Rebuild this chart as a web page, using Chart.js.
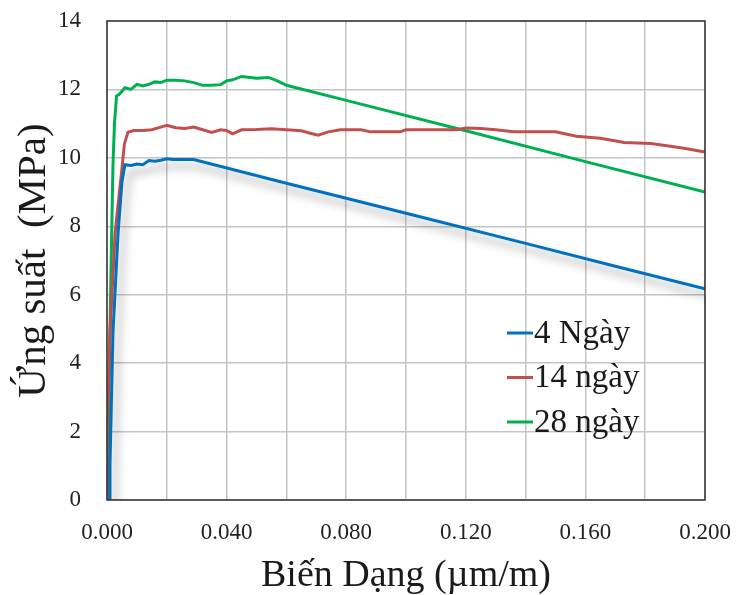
<!DOCTYPE html>
<html lang="vi">
<head>
<meta charset="UTF-8">
<script src="https://cdn.jsdelivr.net/npm/chart.js"></script>
<style>
  html, body { margin: 0; padding: 0; background: #fff; }
  #wrap { width: 737px; height: 595px; }
</style>
</head>
<body>
<div id="wrap"><canvas id="chart" width="737" height="595"></canvas></div>
<script>
// series labels
const seriesNames = ['4 Ngày', '14 ngày', '28 ngày'];
const seriesColors = ['#0070C0', '#C0504D', '#00B050'];

// 4 ngày
const x4 = [0.0008, 0.001, 0.002, 0.0037, 0.005, 0.006, 0.008, 0.010, 0.012, 0.014, 0.016, 0.018, 0.020, 0.022, 0.025, 0.029, 0.060, 0.100, 0.140, 0.170, 0.200];
const y4 = [0, 1.0, 4.9, 7.8, 9.3, 9.8, 9.78, 9.82, 9.8, 9.92, 9.9, 9.93, 9.97, 9.95, 9.95, 9.95, 9.26, 8.38, 7.50, 6.83, 6.17];

// 14 ngày
const x14 = [0, 0.0001, 0.001, 0.0027, 0.0049, 0.0058, 0.007, 0.009, 0.012, 0.015, 0.018, 0.020, 0.023, 0.026, 0.029, 0.032, 0.035, 0.038, 0.040, 0.042, 0.045, 0.050, 0.055, 0.060, 0.065, 0.068, 0.0706, 0.074, 0.078, 0.085, 0.088, 0.098, 0.100, 0.117, 0.120, 0.125, 0.130, 0.136, 0.150, 0.157, 0.165, 0.173, 0.182, 0.193, 0.200];
const y14 = [0, 2.0, 4.9, 7.8, 9.6, 10.4, 10.75, 10.8, 10.8, 10.82, 10.9, 10.95, 10.88, 10.86, 10.9, 10.82, 10.74, 10.82, 10.8, 10.7, 10.82, 10.83, 10.85, 10.82, 10.79, 10.72, 10.66, 10.76, 10.82, 10.82, 10.76, 10.76, 10.82, 10.82, 10.87, 10.86, 10.82, 10.76, 10.76, 10.63, 10.57, 10.45, 10.42, 10.28, 10.17];

// 28 ngày
const x28 = [0.0002, 0.0006, 0.001, 0.0015, 0.002, 0.0025, 0.0032, 0.004, 0.005, 0.006, 0.008, 0.010, 0.012, 0.014, 0.016, 0.018, 0.020, 0.023, 0.026, 0.029, 0.032, 0.035, 0.038, 0.040, 0.042, 0.045, 0.048, 0.050, 0.054, 0.057, 0.060, 0.080, 0.120, 0.160, 0.200];
const y28 = [0, 2.5, 5.0, 7.5, 9.8, 11.0, 11.81, 11.85, 11.95, 12.05, 12.0, 12.15, 12.1, 12.15, 12.22, 12.2, 12.27, 12.27, 12.25, 12.2, 12.12, 12.12, 12.14, 12.25, 12.28, 12.38, 12.35, 12.33, 12.35, 12.25, 12.12, 11.68, 10.79, 9.89, 9.0];

const xTickLabels = ['0.000', '0.040', '0.080', '0.120', '0.160', '0.200'];

function pts(xs, ys) {
    return xs.map((x, i) => ({ x: x, y: ys[i] }));
}

const FONT = "'Liberation Serif', 'Times New Roman', serif";

// shadow under the 4-day curve
const shadowPlugin = {
    id: 'shadow',
    beforeDatasetDraw(chart, args) {
        if (args.index !== 0) return;
        const ctx = chart.ctx;
        ctx.save();
        ctx.shadowColor = 'rgba(0,0,0,0.4)';
        ctx.shadowBlur = 10;
        ctx.shadowOffsetX = 5;
        ctx.shadowOffsetY = 7;
    },
    afterDatasetDraw(chart, args) {
        if (args.index !== 0) return;
        chart.ctx.restore();
    }
};

// frame + legend inside plot
const framePlugin = {
    id: 'frame',
    afterDraw(chart) {
        const ctx = chart.ctx;
        const a = chart.chartArea;
        ctx.save();
        ctx.strokeStyle = '#333';
        ctx.lineWidth = 1.5;
        ctx.strokeRect(a.left, a.top, a.right - a.left, a.bottom - a.top);

        ctx.font = '33px ' + FONT;
        ctx.textBaseline = 'middle';
        ctx.fillStyle = '#1a1a1a';
        seriesNames.forEach((name, i) => {
            const y = a.top + 312 + i * 44.5;
            ctx.strokeStyle = seriesColors[i];
            ctx.lineWidth = 3;
            ctx.beginPath();
            ctx.moveTo(a.left + 400, y);
            ctx.lineTo(a.left + 426, y);
            ctx.stroke();
            ctx.fillText(name, a.left + 427, y + 1);
        });
        ctx.restore();
    }
};

const datasets = [pts(x4, y4), pts(x14, y14), pts(x28, y28)].map((d, i) => ({
    label: seriesNames[i],
    data: d,
    borderColor: seriesColors[i],
    backgroundColor: seriesColors[i],
    borderWidth: 3,
    pointRadius: 0,
    tension: 0,
    fill: false
}));

new Chart(document.getElementById('chart').getContext('2d'), {
    type: 'line',
    data: { datasets: datasets },
    options: {
        responsive: false,
        animation: false,
        layout: { padding: { top: 21, right: 32, left: 0, bottom: 0 } },
        plugins: {
            legend: { display: false },
            tooltip: { enabled: false }
        },
        scales: {
            x: {
                type: 'linear',
                min: 0,
                max: 0.2,
                afterFit(scale) {
                    scale.height = 95;
                    scale.paddingLeft = 0;
                    scale.paddingRight = 0;
                },
                ticks: {
                    stepSize: 0.02,
                    maxRotation: 0,
                    autoSkip: false,
                    padding: 19,
                    color: '#222',
                    font: { family: FONT, size: 23 },
                    callback: (v, i) => i % 2 === 0 ? xTickLabels[i / 2] : ''
                },
                grid: { color: '#c4c4c4', lineWidth: 1.5, drawTicks: false },
                border: { display: false },
                title: {
                    display: true,
                    text: 'Biến Dạng (µm/m)',
                    color: '#1a1a1a',
                    font: { family: FONT, size: 38, lineHeight: 1 },
                    padding: { top: 0, bottom: 0 }
                }
            },
            y: {
                min: 0,
                max: 14,
                afterFit(scale) {
                    scale.width = 107;
                    scale.paddingTop = 0;
                    scale.paddingBottom = 0;
                },
                ticks: {
                    stepSize: 2,
                    padding: 26,
                    color: '#222',
                    font: { family: FONT, size: 23 }
                },
                grid: { color: '#c4c4c4', lineWidth: 1.5, drawTicks: false },
                border: { display: false },
                title: {
                    display: true,
                    text: 'Ứng suất  (MPa)',
                    color: '#1a1a1a',
                    font: { family: FONT, size: 41, lineHeight: 1 },
                    padding: { top: 14, bottom: 0 }
                }
            }
        }
    },
    plugins: [shadowPlugin, framePlugin]
});
</script>
</body>
</html>
